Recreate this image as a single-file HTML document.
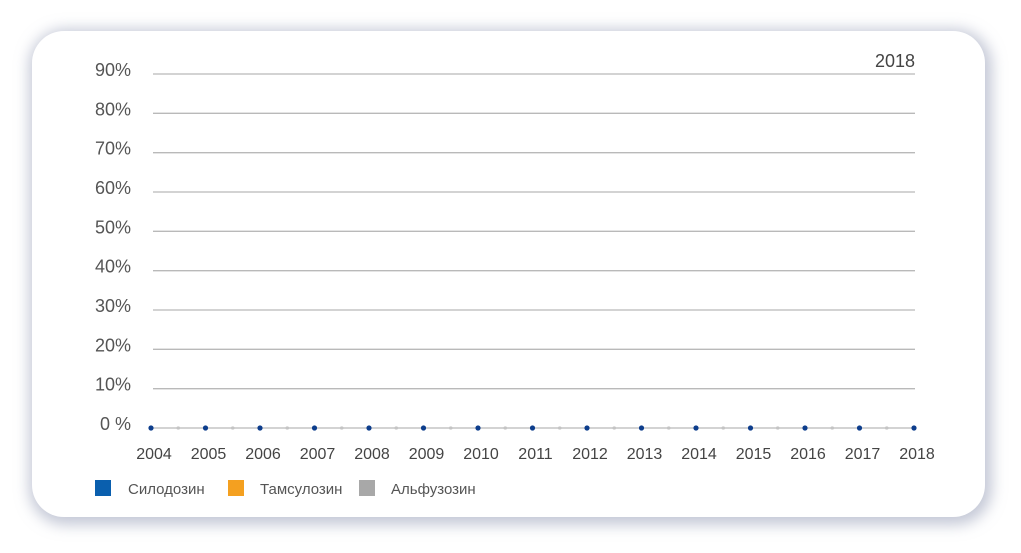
<!DOCTYPE html>
<html><head><meta charset="utf-8"><style>
body{margin:0;width:1021px;height:553px;background:#fff;overflow:hidden;font-family:"Liberation Sans",sans-serif}
#card{position:absolute;left:32px;top:31px;width:953px;height:486px;border-radius:32px;background:#fff;box-shadow:2px 3px 14px 5px rgba(140,148,175,0.5)}
svg{position:absolute;left:0;top:0}
</style></head><body>
<div id="card"></div>
<svg width="1021" height="553" id="chart"></svg>
<script>
const years=["2004","2005","2006","2007","2008","2009","2010","2011","2012","2013","2014","2015","2016","2017","2018"];
const silodosin=[0,0,0,0,0,0,0,0,0,0,0,0,0,0,0];
const tamsulosin=[0,0,0,0,0,0,0,0,0,0,0,0,0,0,0];
const alfuzosin=[0,0,0,0,0,0,0,0,0,0,0,0,0,0,0];
const yTicks=[0,10,20,30,40,50,60,70,80,90];
const yTickLabels=["0 %","10%","20%","30%","40%","50%","60%","70%","80%","90%"];
const NS="http://www.w3.org/2000/svg";
const svg=document.getElementById('chart');
const x0=151,x1=914,y0=428,y1=74;
const xs=i=>x0+(x1-x0)*i/(years.length-1);
const ys=v=>y0-(y0-y1)*v/90;
function mk(t,a){const e=document.createElementNS(NS,t);for(const k in a)e.setAttribute(k,a[k]);svg.appendChild(e);return e;}
yTicks.forEach((v,i)=>{
  const l=mk('line',{x1:153,x2:915,y1:ys(v),y2:ys(v),stroke:'#b9b9b9','stroke-width':1.3});
  
  
  const t=mk('text',{x:131,y:ys(v)+2,'text-anchor':'end','font-size':18,fill:'#555'});
  t.textContent=yTickLabels[i];
  
  
});
const ttl=mk('text',{x:915,y:67,'text-anchor':'end','font-size':18,fill:'#444'});
ttl.textContent=years[years.length-1];


for(let i=0;i<years.length-1;i++){
  const m=mk('circle',{cx:(xs(i)+xs(i+1))/2,cy:y0,r:1.8,fill:'#d0d0d0'});
  
  
}
function series(vals,color,name,dots){
  const p=mk('polyline',{points:vals.map((v,i)=>xs(i)+','+ys(v)).join(' '),fill:'none',stroke:color,'stroke-width':1});
  
  
  if(dots)vals.forEach((v,i)=>{
    const c=mk('circle',{cx:xs(i),cy:ys(v),r:2.6,fill:'#0d3d8c'});
    
    
  });
}
series(alfuzosin,'#b9b9b9','alfuzosin',false);
series(tamsulosin,'#b9b9b9','tamsulosin',false);
series(silodosin,'#b9b9b9','silodosin',true);
years.forEach((y,i)=>{
  const t=mk('text',{x:xs(i)+3,y:459,'text-anchor':'middle','font-size':16,fill:'#444'});
  t.textContent=y;
  
  
});
const legend=[["Силодозин","#0a5fae",95,128],["Тамсулозин","#f4a020",228,260],["Альфузозин","#a8a8a8",359,391]];
legend.forEach(([n,c,sx,tx])=>{
  const r=mk('rect',{x:sx,y:480,width:16,height:16,fill:c});
  
  
  const t=mk('text',{x:tx,y:494,'font-size':15,fill:'#555'});
  t.textContent=n;
  
  
});
</script>
</body></html>
